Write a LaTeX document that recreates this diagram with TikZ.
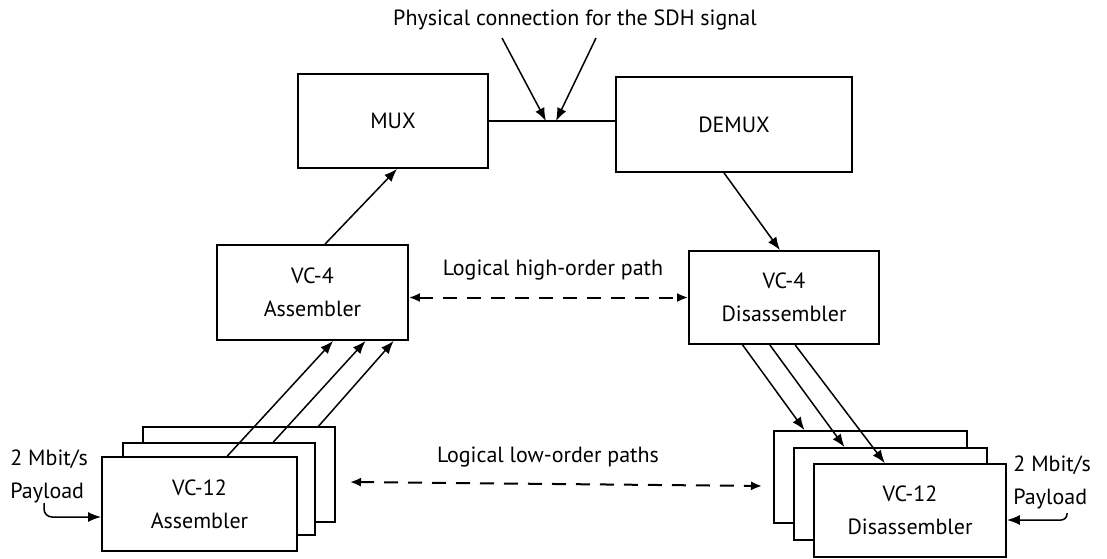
\documentclass[tikz,border=0pt]{standalone}
\usepackage{fontspec}
\setmainfont{PT Sans}
\usetikzlibrary{arrows.meta,calc}
\begin{document}
\begin{tikzpicture}[x=0.5pt,y=-0.5pt,
  font=\fontsize{11}{16.5}\selectfont,
  box/.style={draw, line width=0.9pt, fill=white, inner sep=0pt, align=center},
  lbl/.style={inner sep=0pt, align=left},
  arr/.style={line width=0.75pt, -{Latex[length=6.5pt,width=5pt]}},
  darr/.style={line width=1pt, dash pattern=on 7pt off 5pt,
    {Latex[length=5.5pt,width=4.5pt]}-{Latex[length=5.5pt,width=4.5pt]}},
]
\useasboundingbox (0,0) rectangle (1107,558);

% multiplexer pair
\node[box, minimum width=95pt, minimum height=47pt] (mux) at (393,121) {MUX};
\node[box, minimum width=118pt, minimum height=47.5pt] (demux) at (734,124.5) {DEMUX};

% high-order assembler / disassembler
\node[box, minimum width=95.5pt, minimum height=47.5pt] (a4) at (312.5,292.5) {VC-4\\Assembler};
\node[box, minimum width=95pt, minimum height=46.5pt] (d4) at (784,297.5) {VC-4\\Disassembler};

% stacked VC-12 assemblers (back to front)
\node[box, minimum width=96pt, minimum height=47.5pt] (a12c) at (239,474.5) {};
\node[box, minimum width=96pt, minimum height=46pt] (a12b) at (219,489) {};
\node[box, minimum width=97.5pt, minimum height=47pt] (a12a) at (199.5,504) {VC-12\\Assembler};

% stacked VC-12 disassemblers (back to front)
\node[box, minimum width=96.5pt, minimum height=46pt] (d12c) at (870.5,477) {};
\node[box, minimum width=96.5pt, minimum height=46pt] (d12b) at (890.5,494) {};
\node[box, minimum width=96pt, minimum height=46.5pt] (d12a) at (910,510.5) {VC-12\\Disassembler};

% physical SDH connection
\draw[line width=0.9pt] (mux.east) -- (mux.east -| demux.west);
\node[inner sep=0pt] (phys) at (575,20) {Physical connection for the SDH signal};
\coordinate (p1) at (502,38);
\coordinate (p2) at (596,38);
\coordinate (q1) at (546,121);
\coordinate (q2) at (556,121);
\draw[arr] (p1) -- (q1);
\draw[arr] (p2) -- (q2);

% high-order signal flow
\draw[arr] ($(a4.north west)!0.565!(a4.north east)$) -- ($(mux.south west)!0.521!(mux.south east)$);
\draw[arr] ($(demux.south west)!0.458!(demux.south east)$) -- ($(d4.north west)!0.479!(d4.north east)$);

% logical high-order path
\node[inner sep=0pt] (hop) at (553,270) {Logical high-order path};
\draw[darr] (a4.east |- d4.west) -- (d4.west);

% VC-12 -> VC-4
\draw[arr] ($(a12a.north west)!0.641!(a12a.north east)$) -- ($(a4.south west)!0.607!(a4.south east)$);
\draw[arr] ($(a12b.north west)!0.78!(a12b.north east)$) -- ($(a4.south west)!0.775!(a4.south east)$);
\draw[arr] ($(a12c.north west)!0.911!(a12c.north east)$) -- ($(a4.south west)!0.921!(a4.south east)$);

% VC-4 -> VC-12
\draw[arr] ($(d4.south west)!0.284!(d4.south east)$) -- ($(d12c.north west)!0.161!(d12c.north east)$);
\draw[arr] ($(d4.south west)!0.426!(d4.south east)$) -- ($(d12b.north west)!0.264!(d12b.north east)$);
\draw[arr] ($(d4.south west)!0.558!(d4.south east)$) -- ($(d12a.north west)!0.37!(d12a.north east)$);

% logical low-order paths
\node[inner sep=0pt] (lop) at (548,457) {Logical low-order paths};
\coordinate (l1) at (350,482);
\coordinate (l2) at (762,486);
\draw[darr] (l1) -- (l2);

% 2 Mbit/s payloads
\node[lbl, anchor=west] (pin) at (10,476) {2 Mbit/s\\Payload};
\coordinate (pin1) at (44,503);
\draw[arr, rounded corners=4pt] (pin1) |- ($(a12a.west)+(0,13)$);

\node[lbl, anchor=west] (pout) at (1013,482) {2 Mbit/s\\Payload};
\coordinate (pout1) at (1067,513);
\draw[arr, rounded corners=3pt] (pout1) |- ($(d12a.east)+(0,9.5)$);
\end{tikzpicture}
\end{document}
